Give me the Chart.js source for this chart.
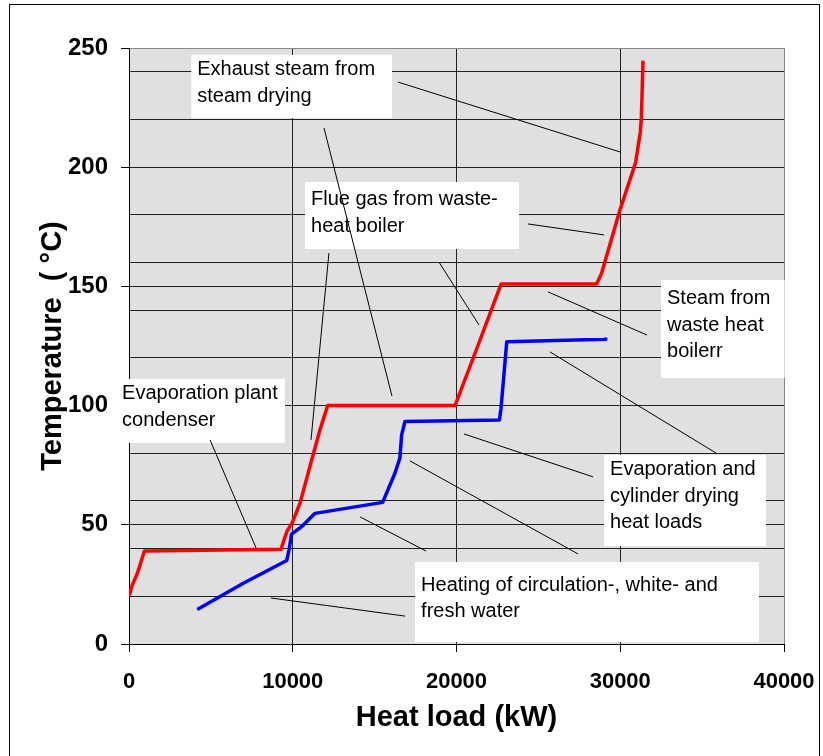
<!DOCTYPE html>
<html>
<head>
<meta charset="utf-8">
<script src="https://cdn.jsdelivr.net/npm/chart.js@4"></script>
<style>
  body { margin: 0; background: #fff; }
  #wrap { width: 823px; height: 756px; }
</style>
</head>
<body>
<div id="wrap"><canvas id="pinch" width="823" height="756"></canvas></div>
<script>
// hot composite curve (red)
const hotLoad = [0, 200, 530, 940, 9280, 9630, 9970, 10440, 11090, 11660, 12130, 19910, 21300, 22720, 28560, 28860, 29980, 30940, 31230, 31290, 31390];
const hotTemp = [20, 24.7, 30, 39, 39.7, 47, 50.9, 59, 75.5, 89.8, 100, 100, 125, 151, 151, 155.5, 182, 202, 215, 221, 244.7];

// cold composite curve (blue)
const coldLoad = [4170, 6980, 9630, 9770, 9930, 10540, 11360, 15490, 16240, 16540, 16650, 16850, 22620, 22720, 23070, 29070, 29110];
const coldTemp = [14.5, 25.5, 35, 39.4, 46.1, 49.2, 54.8, 59.4, 71.6, 77.9, 87.7, 93.3, 94, 98.9, 126.8, 127.8, 128.6];

const xTicks = [0, 10000, 20000, 30000, 40000];
const yGrid = [0, 20, 40, 50, 60, 80, 100, 120, 140, 150, 160, 180, 200, 220, 240, 250];

// callout boxes: box = [x1, y1, x2, y2] in data units, lines = leader lines
const notes = [
  { box: [3800, 247.1, 16060, 220.6], pad: 15, text: ['Exhaust steam from', 'steam drying'],
    lines: [[16430, 235.7, 29985, 206.4], [11910, 216.4, 16060, 104.0]] },
  { box: [10750, 193.8, 23820, 165.7], pad: 18, text: ['Flue gas from waste-', 'heat boiler'],
    lines: [[12210, 164.0, 11115, 85.6], [18930, 160.2, 21375, 133.8], [24370, 176.2, 29010, 171.6]] },
  { box: [32490, 152.7, 40040, 111.6], pad: 19, text: ['Steam from', 'waste heat', 'boilerr'],
    lines: [[25590, 147.7, 31630, 129.6]] },
  { box: [29010, 79.3, 38900, 41.1], pad: 15, text: ['Evaporation and', 'cylinder drying', 'heat loads'],
    lines: [[25710, 122.5, 35850, 80.1], [20460, 88.1, 28340, 70.1]] },
  { box: [17470, 34.4, 38470, 0.8], pad: 23, text: ['Heating of circulation-, white- and', 'fresh water'],
    lines: [[14110, 53.3, 18140, 39.0], [8670, 19.3, 16860, 11.7], [17160, 76.8, 27420, 37.8]] },
  { box: [-790, 111.2, 9530, 84.3], pad: 15, text: ['Evaporation plant', 'condenser'],
    lines: [[4950, 85.6, 7760, 40.3]] }
];

const FONT = "'Liberation Sans', Arial, sans-serif";

const plotBg = {
  id: 'plotBg',
  beforeDraw(chart) {
    const { ctx, chartArea: a } = chart;
    ctx.save();
    ctx.fillStyle = '#e0e0e0';
    ctx.fillRect(a.left, a.top, a.right - a.left, a.bottom - a.top);
    ctx.restore();
  },
  afterDraw(chart) {
    const ctx = chart.ctx;
    const sx = chart.scales.x, sy = chart.scales.y;
    ctx.save();
    // outer frame
    ctx.strokeStyle = '#000';
    ctx.lineWidth = 1;
    ctx.strokeRect(9.5, 4.5, 810, 780);
    // boxes + text
    ctx.font = '20px ' + FONT;
    ctx.textBaseline = 'middle';
    ctx.fillStyle = '#000';
    notes.forEach(n => {
      const x1 = sx.getPixelForValue(n.box[0]), y1 = sy.getPixelForValue(n.box[1]);
      const x2 = sx.getPixelForValue(n.box[2]), y2 = sy.getPixelForValue(n.box[3]);
      ctx.fillStyle = '#fff';
      ctx.fillRect(x1, y1, x2 - x1, y2 - y1);
      ctx.fillStyle = '#000';
      n.text.forEach((t, i) => ctx.fillText(t, x1 + 6, y1 + n.pad + i * 26.5));
    });
    // leader lines
    ctx.beginPath();
    notes.forEach(n => n.lines.forEach(l => {
      ctx.moveTo(sx.getPixelForValue(l[0]), sy.getPixelForValue(l[1]));
      ctx.lineTo(sx.getPixelForValue(l[2]), sy.getPixelForValue(l[3]));
    }));
    ctx.strokeStyle = '#000';
    ctx.lineWidth = 1;
    ctx.stroke();
    ctx.restore();
  }
};

new Chart(document.getElementById('pinch'), {
  type: 'scatter',
  data: {
    datasets: [
      {
        data: hotLoad.map((v, i) => ({ x: v, y: hotTemp[i] })),
        showLine: true, borderColor: '#ff0000', borderWidth: 3.5,
        pointRadius: 0, borderJoinStyle: 'round', tension: 0
      },
      {
        data: coldLoad.map((v, i) => ({ x: v, y: coldTemp[i] })),
        showLine: true, borderColor: '#0000ff', borderWidth: 3.5,
        pointRadius: 0, borderJoinStyle: 'round', tension: 0
      }
    ]
  },
  options: {
    responsive: false,
    animation: false,
    layout: { padding: { left: 0, top: 48, right: 39, bottom: 0 } },
    plugins: { legend: { display: false }, tooltip: { enabled: false } },
    scales: {
      x: {
        type: 'linear', min: 0, max: 40000,
        afterBuildTicks: s => { s.ticks = xTicks.map(v => ({ value: v })); },
        afterFit: s => { s.height = 112; s.paddingLeft = 0; s.paddingRight = 0; },
        ticks: {
          callback: v => String(v), color: '#000', padding: 17, maxRotation: 0,
          font: { family: FONT, size: 22, weight: 'bold' }
        },
        grid: {
          color: c => (c.tick && c.tick.value === 40000) ? '#888' : '#222',
          tickColor: '#000', tickLength: 8, lineWidth: 1
        },
        border: { color: '#000', width: 1 },
        title: {
          display: true, text: 'Heat load (kW)', color: '#000',
          font: { family: FONT, size: 29, weight: 'bold' }, padding: 21
        }
      },
      y: {
        min: 0, max: 250,
        afterBuildTicks: s => { s.ticks = yGrid.map(v => ({ value: v })); },
        afterFit: s => { s.width = 129; s.paddingTop = 0; s.paddingBottom = 0; },
        ticks: {
          autoSkip: false, color: '#000', padding: 13,
          callback: v => (v % 50 === 0 ? String(v) : ''),
          font: { family: FONT, size: 24, weight: 'bold' }
        },
        grid: {
          color: c => (c.tick && c.tick.value === 250) ? '#888' : '#222',
          tickColor: c => (c.tick && c.tick.value % 50 === 0) ? '#000' : 'rgba(0,0,0,0)',
          tickLength: 8, lineWidth: 1
        },
        border: { color: '#000', width: 1 },
        title: {
          display: true, text: 'Temperature  ( \u00B0C)', color: '#000',
          font: { family: FONT, size: 29, weight: 'bold' }, padding: 36
        }
      }
    }
  },
  plugins: [plotBg]
});
</script>
</body>
</html>
